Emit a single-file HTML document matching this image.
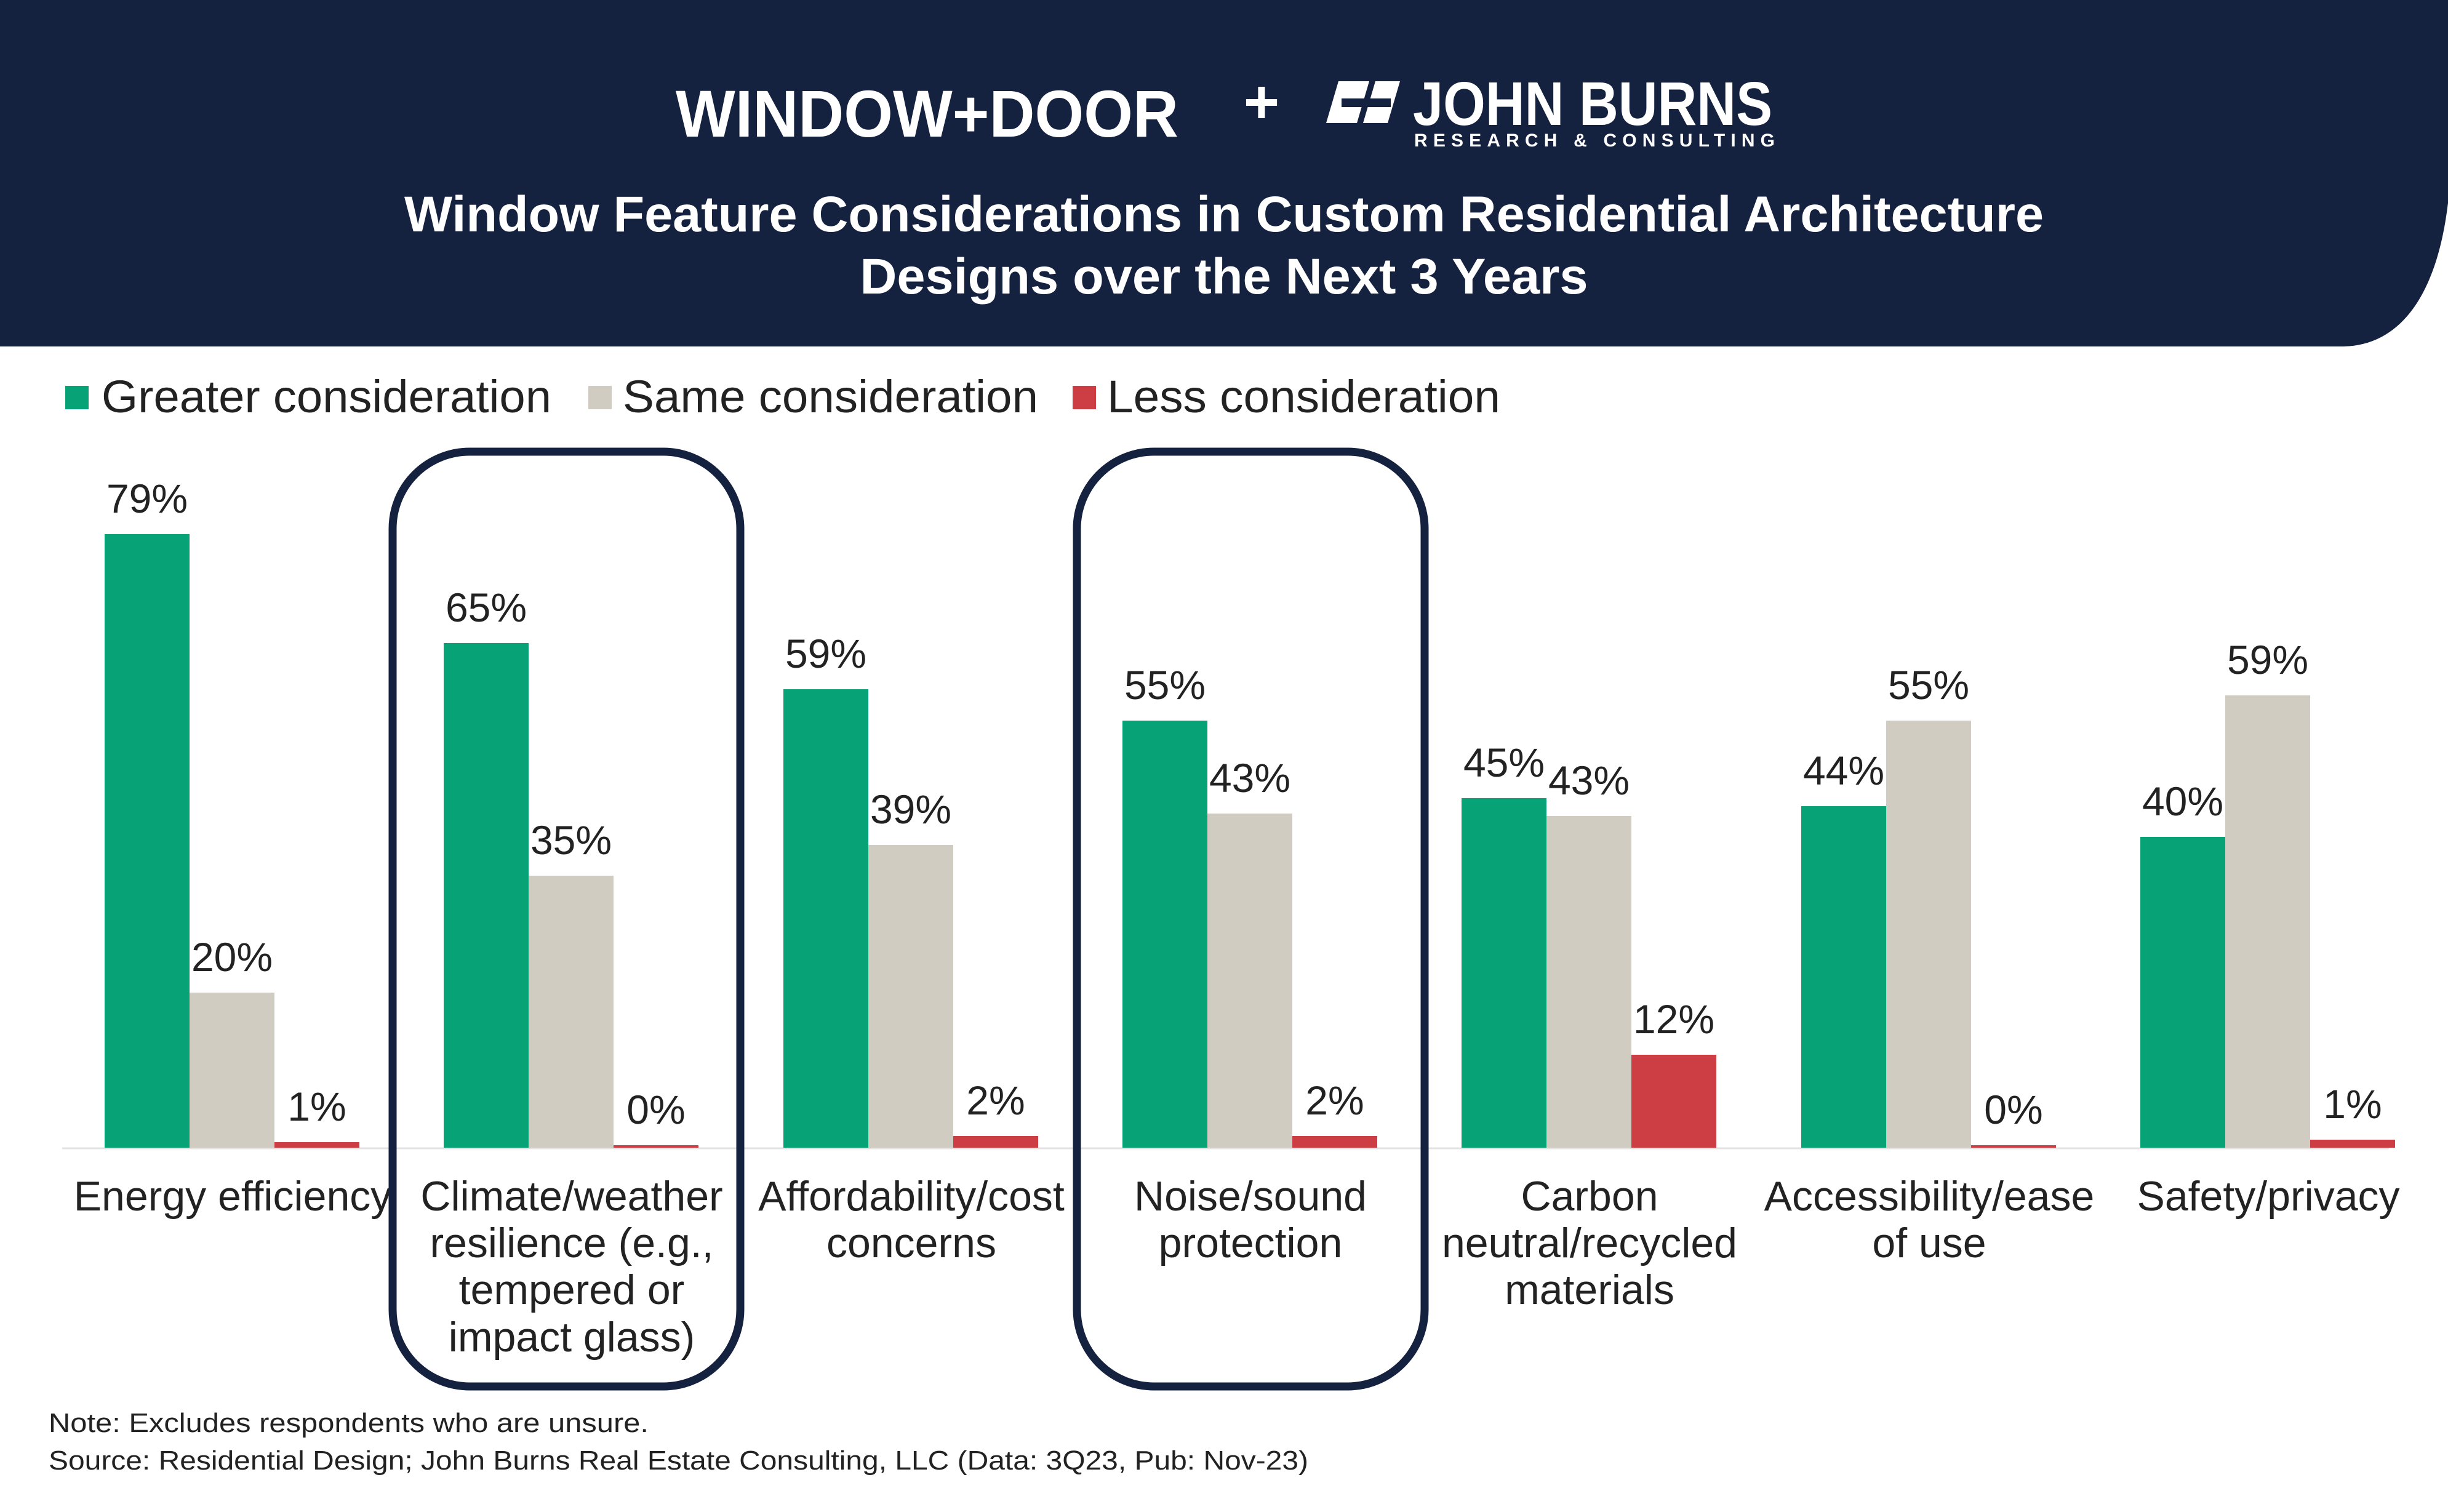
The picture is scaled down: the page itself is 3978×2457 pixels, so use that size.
<!DOCTYPE html>
<html><head><meta charset="utf-8"><style>
html,body{margin:0;padding:0;background:#fff;}
svg{display:block;}
</style></head><body>
<svg width="3978" height="2457" viewBox="0 0 3978 2457" xmlns="http://www.w3.org/2000/svg" font-family="Liberation Sans, Arial, sans-serif">
<rect width="3978" height="2457" fill="#fff"/>
<path d="M0 0 H3978 V330 C3960 480 3900 563 3805 563 H0 Z" fill="#14213f"/>
<text x="1098" y="222" font-size="108" font-weight="bold" fill="#fff" textLength="817" lengthAdjust="spacingAndGlyphs">WINDOW+DOOR</text>
<text x="2050" y="200" font-size="100" font-weight="bold" fill="#fff" text-anchor="middle">+</text>
<g fill="#fff">
<polygon points="2175,132 2225,132 2205,200 2155,200"/>
<polygon points="2235,132 2275,132 2255,200 2215,200"/>
<rect x="2180" y="160" width="80" height="14" fill="#14213f"/>
</g>
<text x="2296" y="203" font-size="100" font-weight="bold" fill="#fff" textLength="584" lengthAdjust="spacingAndGlyphs">JOHN BURNS</text>
<text x="2298" y="238" font-size="30" font-weight="bold" fill="#fff" textLength="586" lengthAdjust="spacing">RESEARCH &amp; CONSULTING</text>
<text x="1989" y="376" font-size="82" font-weight="bold" fill="#fff" text-anchor="middle" textLength="2664" lengthAdjust="spacingAndGlyphs">Window Feature Considerations in Custom Residential Architecture</text>
<text x="1989" y="477" font-size="82" font-weight="bold" fill="#fff" text-anchor="middle" textLength="1183" lengthAdjust="spacingAndGlyphs">Designs over the Next 3 Years</text>

<g font-size="74" fill="#222">
<rect x="106" y="627" width="38" height="38" fill="#07a377"/>
<text x="165" y="670" textLength="731" lengthAdjust="spacingAndGlyphs">Greater consideration</text>
<rect x="956" y="627" width="38" height="38" fill="#d0ccc1"/>
<text x="1012" y="670" textLength="675" lengthAdjust="spacingAndGlyphs">Same consideration</text>
<rect x="1743" y="627" width="38" height="38" fill="#cc3d44"/>
<text x="1799" y="670" textLength="639" lengthAdjust="spacingAndGlyphs">Less consideration</text>
</g>

<line x1="101" y1="1866" x2="3882" y2="1866" stroke="#e3e3e3" stroke-width="3"/>

<g font-size="66" fill="#222" text-anchor="middle">
<rect x="170" y="868" width="138" height="997" fill="#07a377"/>
<rect x="308" y="1613" width="138" height="252" fill="#d0ccc1"/>
<rect x="446" y="1856" width="138" height="9" fill="#cc3d44"/>
<text x="239" y="833">79%</text><text x="377" y="1578">20%</text><text x="515" y="1821">1%</text>
<rect x="721" y="1045" width="138" height="820" fill="#07a377"/>
<rect x="859" y="1423" width="138" height="442" fill="#d0ccc1"/>
<rect x="997" y="1861" width="138" height="4" fill="#cc3d44"/>
<text x="790" y="1010">65%</text><text x="928" y="1388">35%</text><text x="1066" y="1826">0%</text>
<rect x="1273" y="1120" width="138" height="745" fill="#07a377"/>
<rect x="1411" y="1373" width="138" height="492" fill="#d0ccc1"/>
<rect x="1549" y="1846" width="138" height="19" fill="#cc3d44"/>
<text x="1342" y="1085">59%</text><text x="1480" y="1338">39%</text><text x="1618" y="1811">2%</text>
<rect x="1824" y="1171" width="138" height="694" fill="#07a377"/>
<rect x="1962" y="1322" width="138" height="543" fill="#d0ccc1"/>
<rect x="2100" y="1846" width="138" height="19" fill="#cc3d44"/>
<text x="1893" y="1136">55%</text><text x="2031" y="1287">43%</text><text x="2169" y="1811">2%</text>
<rect x="2375" y="1297" width="138" height="568" fill="#07a377"/>
<rect x="2513" y="1326" width="138" height="539" fill="#d0ccc1"/>
<rect x="2651" y="1714" width="138" height="151" fill="#cc3d44"/>
<text x="2444" y="1262">45%</text><text x="2582" y="1291">43%</text><text x="2720" y="1679">12%</text>
<rect x="2927" y="1310" width="138" height="555" fill="#07a377"/>
<rect x="3065" y="1171" width="138" height="694" fill="#d0ccc1"/>
<rect x="3203" y="1861" width="138" height="4" fill="#cc3d44"/>
<text x="2996" y="1275">44%</text><text x="3134" y="1136">55%</text><text x="3272" y="1826">0%</text>
<rect x="3478" y="1360" width="138" height="505" fill="#07a377"/>
<rect x="3616" y="1130" width="138" height="735" fill="#d0ccc1"/>
<rect x="3754" y="1852" width="138" height="13" fill="#cc3d44"/>
<text x="3547" y="1325">40%</text><text x="3685" y="1095">59%</text><text x="3823" y="1817">1%</text>
</g>

<g font-size="68" fill="#222" text-anchor="middle">
<text x="378" y="1967">Energy efficiency</text>
<text x="929" y="1967">Climate/weather</text>
<text x="929" y="2043">resilience (e.g.,</text>
<text x="929" y="2119">tempered or</text>
<text x="929" y="2196">impact glass)</text>
<text x="1481" y="1967">Affordability/cost</text>
<text x="1481" y="2043">concerns</text>
<text x="2032" y="1967">Noise/sound</text>
<text x="2032" y="2043">protection</text>
<text x="2583" y="1967">Carbon</text>
<text x="2583" y="2043">neutral/recycled</text>
<text x="2583" y="2119">materials</text>
<text x="3135" y="1967">Accessibility/ease</text>
<text x="3135" y="2043">of use</text>
<text x="3686" y="1967">Safety/privacy</text>
</g>

<rect x="638" y="734" width="565" height="1519" rx="125" ry="125" fill="none" stroke="#14213f" stroke-width="13"/>
<rect x="1750" y="734" width="565" height="1519" rx="125" ry="125" fill="none" stroke="#14213f" stroke-width="13"/>

<g font-size="44" fill="#222">
<text x="79" y="2327" textLength="975" lengthAdjust="spacingAndGlyphs">Note: Excludes respondents who are unsure.</text>
<text x="79" y="2388" textLength="2047" lengthAdjust="spacingAndGlyphs">Source: Residential Design; John Burns Real Estate Consulting, LLC (Data: 3Q23, Pub: Nov-23)</text>
</g>
</svg>
</body></html>
